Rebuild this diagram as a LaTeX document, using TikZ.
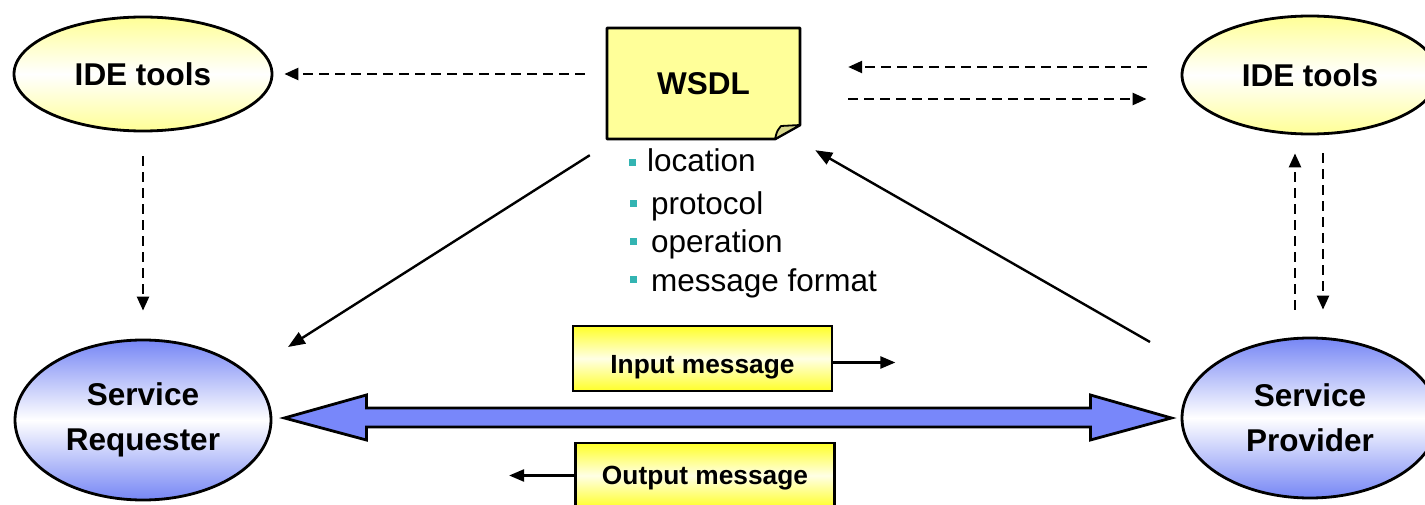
\documentclass[tikz,border=0pt]{standalone}
\usepackage{fontspec}
\setmainfont{Liberation Sans}
\usetikzlibrary{arrows.meta,shapes.geometric}
\definecolor{ideyellow}{RGB}{255,255,150}
\definecolor{notefill}{RGB}{255,255,153}
\definecolor{foldfill}{RGB}{215,215,140}
\definecolor{msgyellow}{RGB}{255,255,40}
\definecolor{svcblue}{RGB}{118,134,245}
\definecolor{arrowblue}{RGB}{120,135,250}
\definecolor{bulletteal}{RGB}{51,180,178}
\begin{document}
\begin{tikzpicture}[x=1pt,y=-1pt]
    \tikzset{every node/.style={font=\fontsize{31.5}{45}\selectfont\bfseries},
        tool/.style={ellipse,draw,line width=2.8pt,top color=ideyellow,bottom color=ideyellow,middle color=white,
            minimum width=258pt,minimum height=114pt,inner sep=0pt},
        party/.style={ellipse,draw,line width=2.8pt,top color=svcblue,bottom color=svcblue,middle color=white,
            minimum width=256pt,minimum height=160pt,inner sep=0pt,align=center},
        msgbox/.style={draw,line width=2.8pt,top color=msgyellow,bottom color=msgyellow,middle color=msgyellow!12,
            minimum width=259pt,minimum height=65pt,inner sep=0pt,text height=30pt,text depth=1pt,
            font=\fontsize{26.3}{30}\selectfont\bfseries},
        bullet/.style={fill=bulletteal,minimum size=7pt,inner sep=0pt},
        item/.style={anchor=base west,inner sep=0pt,font=\fontsize{31.5}{36}\selectfont},
        dasharr/.style={line width=2.4pt,dash pattern=on 10pt off 6pt,-{Triangle[length=14pt,width=12pt]}},
        solidarr/.style={line width=2.4pt,-{Triangle[length=17pt,width=13pt]}},
        msgarr/.style={line width=2.4pt,-{Triangle[length=15pt,width=12pt]}}}
    \useasboundingbox (0,0) rectangle (1425,505);
    % ellipses
    \node[tool] (ideL) at (143,74) {IDE tools};
    \node[tool,minimum width=256pt,minimum height=118pt] (ideR) at (1310,75) {IDE tools};
    \node[party] (req) at (143,420) {Service\\Requester};
    \node[party] (prov) at (1310,418) {Service\\Provider};
    % wsdl note
    \draw[line width=2.8pt,fill=notefill,line join=round] (607,28) -- (800,28) -- (800,125) -- (775,139) -- (607,139) -- cycle;
    \draw[line width=1.8pt,fill=foldfill,line join=round] (775,139) .. controls (777,131) .. (781,126) -- (800,125) -- cycle;
    \node[minimum width=193pt,minimum height=111pt,inner sep=0pt] (wsdl) at (703.5,83.5) {WSDL};
    % list
    \node[bullet] (b1) at (632,163) {};
    \node[bullet] (b2) at (633,204) {};
    \node[bullet] (b3) at (633,242) {};
    \node[bullet] (b4) at (633,280) {};
    \node[item] (loc) at (647,172) {location};
    \node[item] (prot) at (651,215) {protocol};
    \node[item] (oper) at (651,253) {operation};
    \node[item] (fmt) at (651,291) {message format};
    % messages
    \node[msgbox] (inmsg) at (702.5,358.5) {Input message};
    \node[msgbox,text height=19.8pt] (outmsg) at (705,475.5) {Output message};
    \draw[msgarr] ([yshift=-4pt]inmsg.east) -- ++(62,0);
    \draw[msgarr] (outmsg.west) -- ++(-65,0);
    % big arrow
    \draw[line width=2.8pt,fill=arrowblue,line join=miter] ([shift={(12,-2)}]req.east) -- ++(82,-23) -- ++(0,13) -- ++(724,0)
        -- ++(0,-13) -- ++(81,23) -- ++(-81,22) -- ++(0,-13) -- ++(-724,0) -- ++(0,13) -- cycle;
    % dashed arrows
    \draw[dasharr,shorten <=22pt,shorten >=11pt] ([yshift=9.5pt]wsdl.west) -- (ideL.east);
    \draw[dasharr,shorten <=34pt,shorten >=48pt] ([yshift=8pt]ideR.west) -- ([yshift=16.5pt]wsdl.east);
    \draw[dasharr,shorten <=48pt,shorten >=34pt] ([yshift=-15.5pt]wsdl.east) -- ([yshift=-24pt]ideR.west);
    \draw[dasharr,shorten <=24pt,shorten >=28pt] (ideL.south) -- (req.north);
    \draw[dasharr,shorten <=27pt,shorten >=18pt] ([xshift=-15pt]prov.north) -- ([xshift=-15pt]ideR.south);
    \draw[dasharr,shorten <=18pt,shorten >=27pt] ([xshift=13pt]ideR.south) -- ([xshift=13pt]prov.north);
    % solid arrows
    \draw[solidarr] ([shift={(-17,16)}]wsdl.south west) -- ([shift={(145,-73)}]req.center);
    \draw[solidarr] ([shift={(-160,-76)}]prov.center) -- ([shift={(15,11)}]wsdl.south east);
\end{tikzpicture}
\end{document}
